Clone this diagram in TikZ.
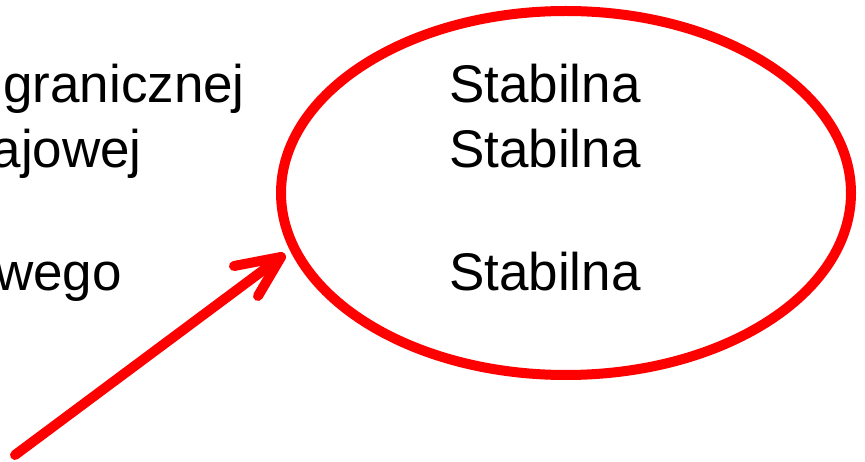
\documentclass[tikz,border=0pt]{standalone}
\usepackage{fontspec}
\setmainfont{Liberation Sans}
\usetikzlibrary{shapes.geometric}
\begin{document}
\begin{tikzpicture}[x=1pt,y=-1pt,
  txt/.style={font=\fontsize{53}{60}\selectfont, inner sep=0pt},
  red line/.style={draw=red, line width=10pt, line cap=round, line join=round}]
\useasboundingbox (0,0) rectangle (865,462);
\clip (0,0) rectangle (865,462);
\node[red line, ellipse, minimum width=570pt, minimum height=364pt, inner sep=0pt] (ell) at (566,193) {};
\node[txt, anchor=base west] (s1) at (449,103) {Stabilna};
\node[txt, anchor=base west] (s2) at (449,168) {Stabilna};
\node[txt, anchor=base west] (s3) at (449,291) {Stabilna};
\node[txt, anchor=base east] (l1) at (245,103) {granicznej};
\node[txt, anchor=base east] (l2) at (142,168) {ajowej};
\node[txt, anchor=base east] (l3) at (122,291) {wego};
\coordinate (tail) at (15,455);
\coordinate (tip) at (281,257);
\coordinate (w1) at (234,266);
\coordinate (w2) at (258,296);
\draw[red line] (tail) -- (tip);
\draw[red line] (w1) -- (tip) -- (w2);
\end{tikzpicture}
\end{document}
